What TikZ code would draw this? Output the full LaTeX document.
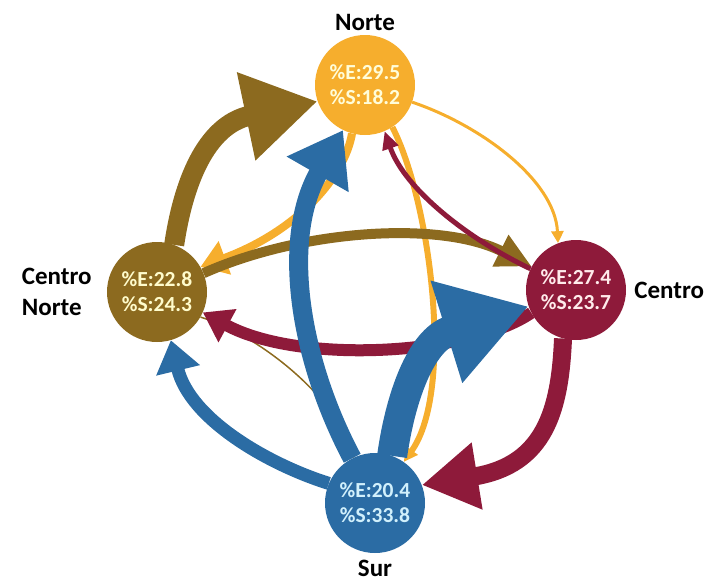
\documentclass[tikz,border=0pt]{standalone}
\usepackage{fontspec}
\setmainfont{Carlito}
\usepackage{xcolor}
\usepackage{tikz}
\usetikzlibrary{positioning,arrows.meta,backgrounds}

\definecolor{norteC}{HTML}{F6AE2D}
\definecolor{cnorteC}{HTML}{8C6A1F}
\definecolor{centroC}{HTML}{8E1A3A}
\definecolor{surC}{HTML}{2B6CA4}

\begin{document}
\begin{tikzpicture}[
    x=1pt, y=-1pt,
    zona/.style={
        circle,
        minimum size=100pt,
        inner sep=0pt,
        align=center,
        font=\fontsize{21.5}{25}\selectfont\bfseries
    },
    lbl/.style={
        inner sep=0pt,
        align=left,
        font=\fontsize{25}{31}\selectfont\bfseries
    },
    arr/.style n args={3}{
        line width=#1,
        arrows={-Triangle[length=#2,width=#3]}
    }
]
\useasboundingbox (0,0) rectangle (712,584);

% regions
\node[zona, fill=norteC, text=white!85!yellow] (n) at (365,85)
{\%E:29.5\\ \%S:18.2};
\node[zona, fill=cnorteC, text=white!80!yellow] (cn) at (157,292)
{\%E:22.8\\ \%S:24.3};
\node[zona, fill=centroC, text=white!92!red] (c) at (576,290)
{\%E:27.4\\ \%S:23.7};
\node[zona, fill=surC, text=white!82!cyan] (s) at (375,503)
{\%E:20.4\\ \%S:33.8};

% names
\node[lbl, above=4pt of n] (nlbl) {Norte};
\node[lbl, left=15pt of cn] (cnlbl) {Centro\\Norte};
\node[lbl, right=8pt of c] (clbl) {Centro};
\node[lbl, below=7pt of s] (slbl) {Sur};

% flows
\begin{pgfonlayer}{background}
\draw[norteC, arr={8pt}{26pt}{34pt}] (n.255) .. controls (345,175) and (300,230) .. (cn.30);
\draw[norteC, arr={6pt}{14pt}{14pt}] (n.303) .. controls (430,200) and (455,390) .. (s.55);
\draw[cnorteC, line width=1.5pt] (cn.-30) .. controls (260,335) and (340,400) .. (s.115);
\draw[cnorteC, arr={10pt}{35pt}{33pt}] (cn.22) .. controls (300,230) and (440,220) .. (c.152);
\draw[centroC, arr={5pt}{18pt}{16pt}] (c.155) .. controls (470,240) and (405,190) .. (n.293);
\draw[centroC, arr={12pt}{28pt}{36pt}] (c.207) .. controls (470,355) and (300,365) .. (cn.-24);
\draw[norteC, arr={3pt}{12pt}{12pt}] (n.-20) .. controls (480,125) and (555,180) .. (c.111);
\draw[cnorteC, arr={20pt}{73pt}{85pt}] (cn.70) .. controls (183,185) and (205,125) .. (n.199);
\draw[centroC, arr={18pt}{56pt}{64pt}] (c.255) .. controls (560,410) and (545,465) .. (s.21);
\draw[surC, arr={13pt}{31pt}{43pt}] (s.157) .. controls (270,465) and (190,420) .. (cn.286);
\draw[surC, arr={19pt}{51pt}{68pt}] (s.117) .. controls (300,360) and (280,240) .. (n.244);
\draw[surC, arr={30pt}{86pt}{101pt}] (s.70) .. controls (400,400) and (420,340) .. (c.199);
\end{pgfonlayer}

\end{tikzpicture}
\end{document}
